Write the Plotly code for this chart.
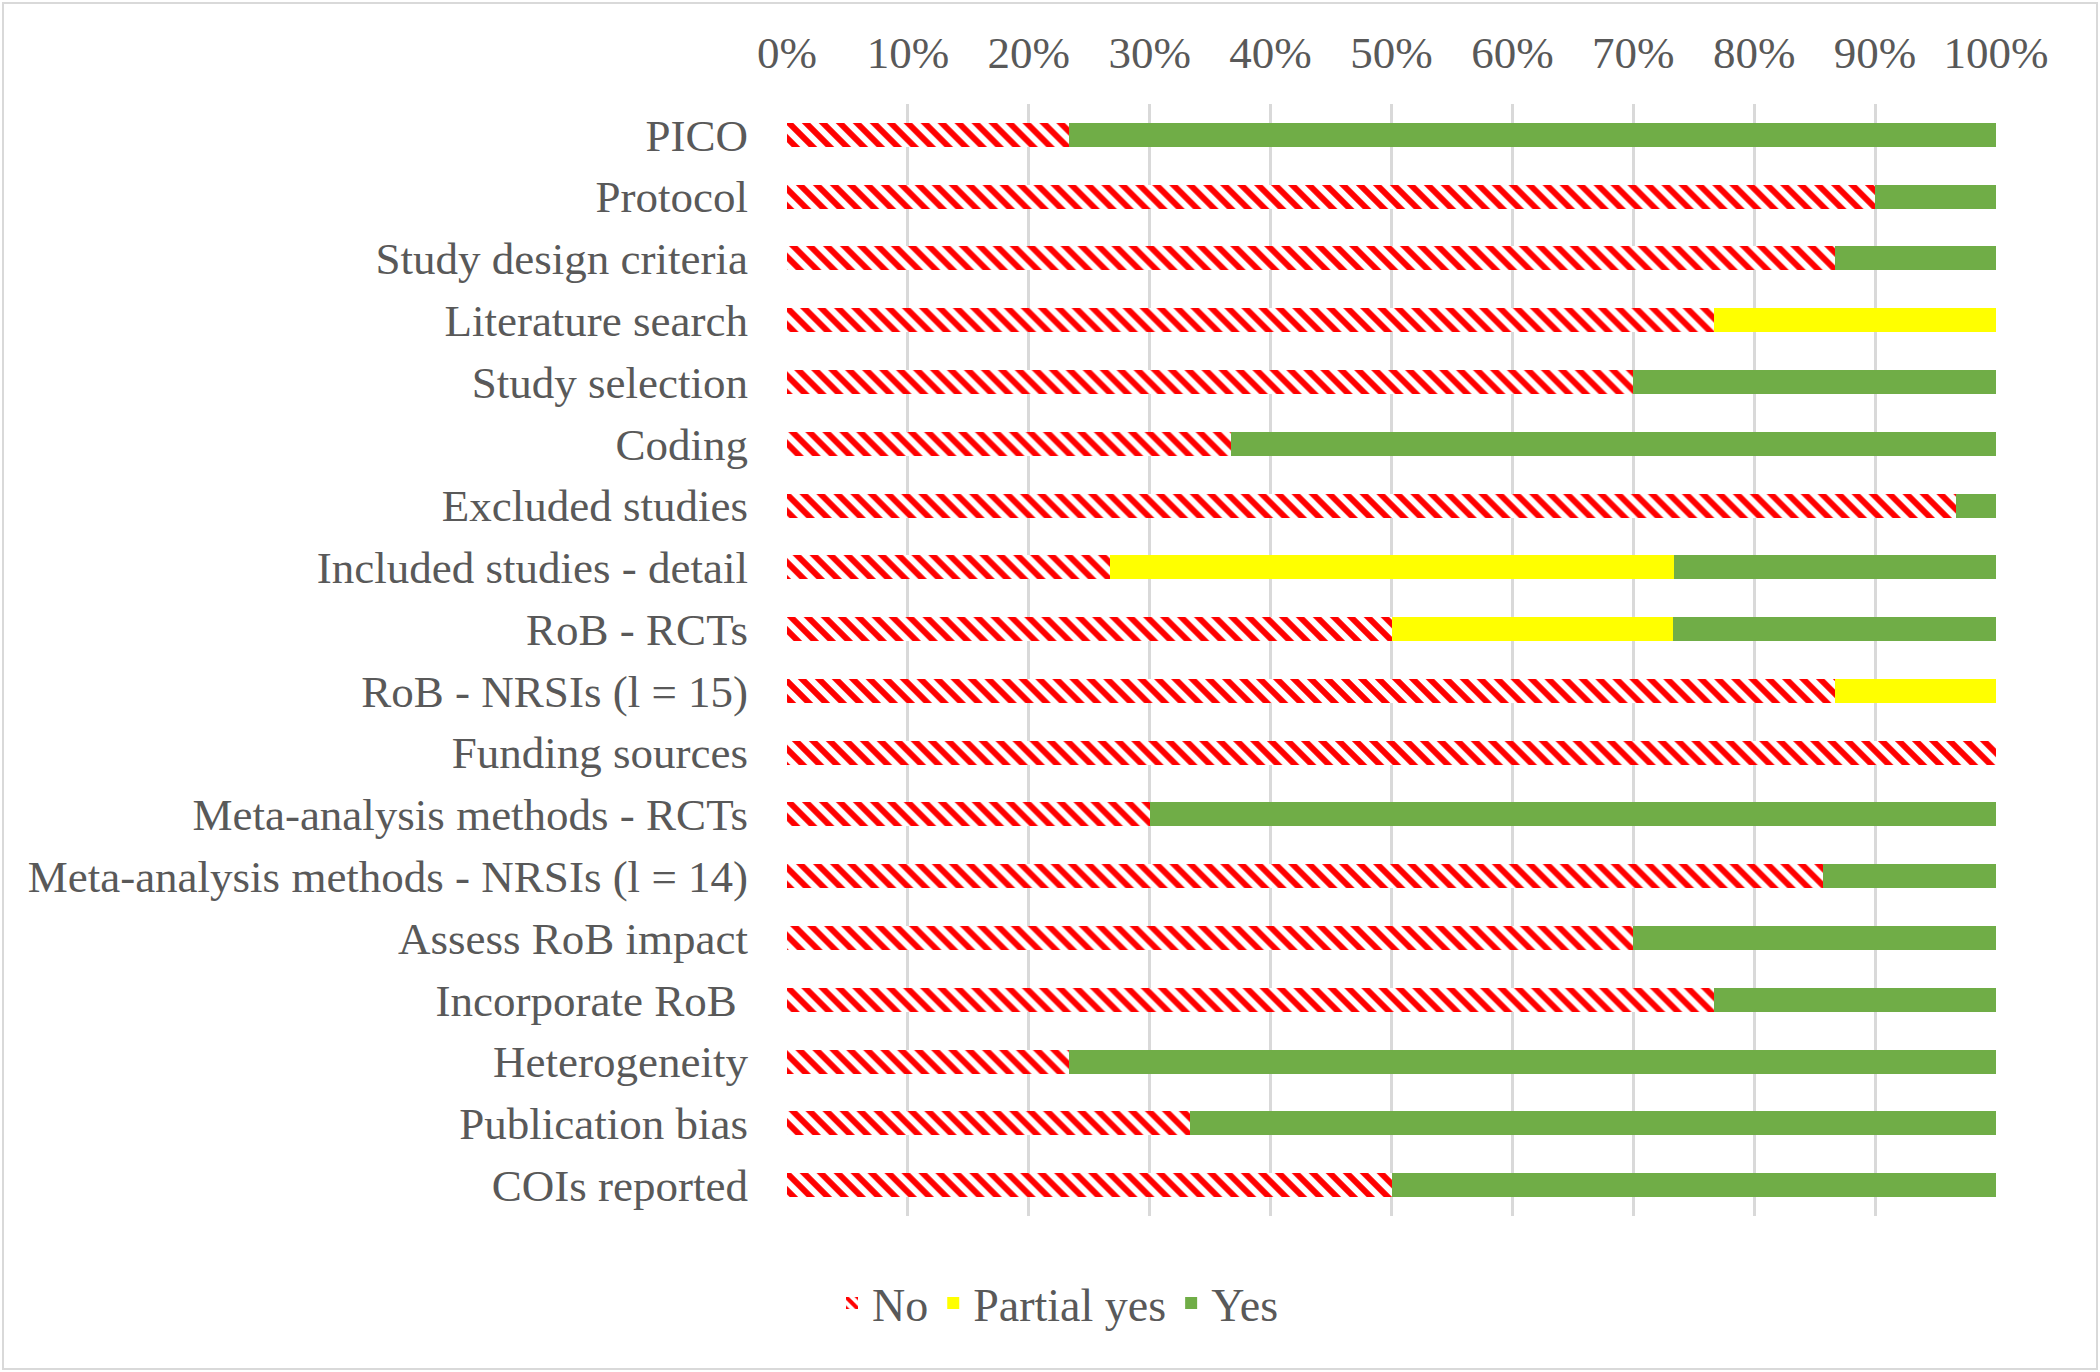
import plotly.graph_objects as go

categories = ['PICO', 'Protocol', 'Study design criteria', 'Literature search', 'Study selection',
              'Coding', 'Excluded studies', 'Included studies - detail', 'RoB - RCTs',
              'RoB - NRSIs (l = 15)', 'Funding sources', 'Meta-analysis methods - RCTs',
              'Meta-analysis methods - NRSIs (l = 14)', 'Assess RoB impact', 'Incorporate RoB ',
              'Heterogeneity', 'Publication bias', 'COIs reported']

no_pct = [23.3, 90.0, 86.7, 76.7, 70.0, 36.7, 96.7, 26.7, 50.0, 86.7, 100.0, 30.0, 85.7, 70.0, 76.7, 23.3, 33.3, 50.0]
partial_pct = [0, 0, 0, 23.3, 0, 0, 0, 46.7, 23.3, 13.3, 0, 0, 0, 0, 0, 0, 0, 0]
yes_pct = [76.7, 10.0, 13.3, 0, 30.0, 63.3, 3.3, 26.7, 26.7, 0, 0, 70.0, 14.3, 30.0, 23.3, 76.7, 66.7, 50.0]

tick_vals = [0, 10, 20, 30, 40, 50, 60, 70, 80, 90, 100]
tick_text = ['0%', '10%', '20%', '30%', '40%', '50%', '60%', '70%', '80%', '90%', '100%']

W, H = 2100, 1372
L, R, T, B = 787, 104, 104, 156
FONT = 'Liberation Serif, Times New Roman, serif'
TXT = '#595959'

fig = go.Figure()

fig.add_trace(go.Bar(
    y=categories, x=no_pct, name='No', orientation='h',
    marker=dict(color='white', line=dict(width=0),
                pattern=dict(shape='\\', fgcolor='#FF0000', bgcolor='white',
                             size=12, solidity=0.5, fillmode='replace')),
))
fig.add_trace(go.Bar(
    y=categories, x=partial_pct, name='Partial yes', orientation='h',
    marker=dict(color='#FFFF00', line=dict(width=0)),
))
fig.add_trace(go.Bar(
    y=categories, x=yes_pct, name='Yes', orientation='h',
    marker=dict(color='#70AD47', line=dict(width=0)),
))

pw = W - L - R
ph = H - T - B

fig.update_layout(
    width=W, height=H,
    barmode='stack', bargap=0.61,
    plot_bgcolor='white', paper_bgcolor='white',
    margin=dict(l=L, r=R, t=T, b=B),
    font=dict(family=FONT, size=45, color=TXT),
    legend=dict(orientation='h', x=(1058 - L) / pw, xanchor='center',
                y=-87 / ph, yanchor='middle', font=dict(size=46, color=TXT),
                itemwidth=30, traceorder='normal'),
    showlegend=True,
)
fig.update_xaxes(
    side='top', range=[0, 100], tickvals=tick_vals, ticktext=tick_text,
    showgrid=True, gridcolor='#d9d9d9', gridwidth=2.5, zeroline=False,
    showline=False, ticks='', ticklabelstandoff=26,
    tickfont=dict(family=FONT, size=45, color=TXT),
)
fig.update_yaxes(
    autorange='reversed', showgrid=False, showline=False, ticks='',
    ticklabelstandoff=38, tickfont=dict(family=FONT, size=45, color=TXT),
)

# light border round the chart area
fig.add_shape(type='rect', xref='paper', yref='paper',
              x0=(3 - L) / pw, x1=(2097 - L) / pw,
              y0=-(1369 - (H - B)) / ph, y1=1 + (T - 3) / ph,
              line=dict(color='#d9d9d9', width=2), fillcolor='rgba(0,0,0,0)', layer='below')

fig.write_html('out.html', config={'displayModeBar': False},
               post_script="document.body.style.margin='0';")
